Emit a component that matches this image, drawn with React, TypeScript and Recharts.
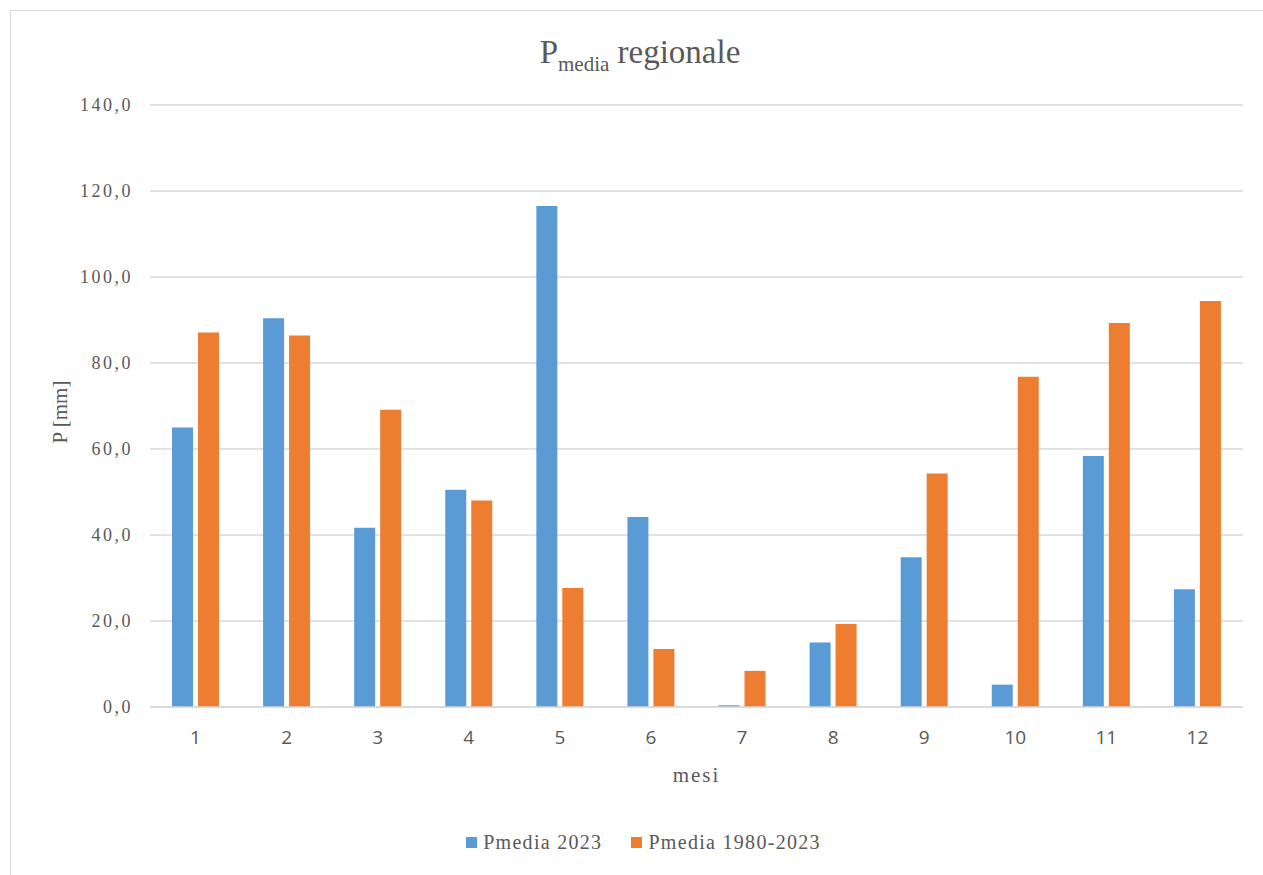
import { Bar, BarChart, CartesianGrid, Legend, XAxis, YAxis } from 'recharts';

const MONTHS = ['1', '2', '3', '4', '5', '6', '7', '8', '9', '10', '11', '12'];
const P_2023 = [65.0, 90.4, 41.7, 50.5, 116.5, 44.2, 0.4, 15.0, 34.8, 5.2, 58.4, 27.4];
const P_1980_2023 = [87.1, 86.4, 69.1, 48.0, 27.7, 13.5, 8.4, 19.3, 54.3, 76.8, 89.3, 94.4];
const Y_TICKS = [0, 20, 40, 60, 80, 100, 120, 140];

const SERIES_2023 = 'Pmedia 2023';
const SERIES_HIST = 'Pmedia 1980-2023';
const LEGEND_ORDER = [SERIES_2023, SERIES_HIST];

const data = MONTHS.map((m, i) => ({
  mese: m,
  p2023: P_2023[i],
  pHist: P_1980_2023[i],
}));

const SERIF = '"Liberation Serif", "DejaVu Serif", serif';
const SANS = '"Open Sans", "Noto Sans", sans-serif';
const TEXT = '#595959';
const GRID = '#d9d9d9';

const fmt = (v: number) => v.toFixed(1).replace('.', ',');

function LegendBox({ payload }: { payload?: { value: string; color: string }[] }) {
  const items = [...(payload ?? [])].sort(
    (a, b) => LEGEND_ORDER.indexOf(a.value) - LEGEND_ORDER.indexOf(b.value),
  );
  return (
    <div style={{ display: 'flex', justifyContent: 'center', alignItems: 'center', gap: 29 }}>
      {items.map((item) => (
        <div key={item.value} style={{ display: 'flex', alignItems: 'center' }}>
          <span style={{ width: 11, height: 11, background: item.color, marginRight: 6 }} />
          <span style={{ fontFamily: SERIF, fontSize: 20, letterSpacing: 1.3, color: TEXT }}>
            {item.value}
          </span>
        </div>
      ))}
    </div>
  );
}

export default function App() {
  // fixed so the page never gets a scrollbar
  return (
    <div style={{ position: 'fixed', left: 0, top: 0, width: 1263, height: 875, overflow: 'hidden', background: '#fff' }}>
      {/* chart area frame: only top and left edges are visible in the original */}
      <div style={{ position: 'absolute', left: 10, top: 10, width: 1300, height: 1, background: GRID }} />
      <div style={{ position: 'absolute', left: 10, top: 10, width: 1, height: 900, background: GRID }} />
      <div
        style={{
          position: 'absolute',
          left: 0,
          top: 36,
          width: 1280,
          textAlign: 'center',
          fontFamily: SERIF,
          fontSize: 33,
          lineHeight: '32px',
          color: TEXT,
        }}
      >
        P<span style={{ fontSize: 21, position: 'relative', top: 8 }}>media</span> regionale
      </div>
      <BarChart
        width={1263}
        height={875}
        data={data}
        margin={{ top: 105, right: 20, bottom: 88, left: 0 }}
        barSize={21}
        barGap={5}
        style={{ position: 'absolute', left: 0, top: 0 }}
      >
        <CartesianGrid vertical={false} stroke={GRID} strokeWidth={1.5} />
        <XAxis
          dataKey="mese"
          height={80}
          axisLine={{ stroke: GRID, strokeWidth: 1.5 }}
          tickLine={false}
          tickSize={0}
          tickMargin={24}
          tick={{ fontFamily: SANS, fontSize: 19, fill: TEXT }}
          label={{
            content: (props: any) => {
              const vb = props.viewBox;
              return (
                <text
                  x={vb.x + vb.width / 2}
                  y={vb.y + 75}
                  textAnchor="middle"
                  fontFamily={SERIF}
                  fontSize={21}
                  letterSpacing={2}
                  fill={TEXT}
                >
                  mesi
                </text>
              );
            },
          }}
        />
        <YAxis
          width={150}
          domain={[0, 140]}
          ticks={Y_TICKS}
          tickFormatter={fmt}
          axisLine={false}
          tickLine={false}
          tickSize={0}
          tickMargin={17}
          tick={{ fontFamily: SERIF, fontSize: 18, fill: TEXT, letterSpacing: 2.5 }}
          label={{
            content: (props: any) => {
              const vb = props.viewBox;
              const cx = 60;
              const cy = vb.y + vb.height / 2 + 6;
              return (
                <text
                  x={cx}
                  y={cy}
                  textAnchor="middle"
                  dominantBaseline="central"
                  transform={`rotate(-90 ${cx} ${cy})`}
                  fontFamily={SERIF}
                  fontSize={21}
                  fill={TEXT}
                >
                  P [mm]
                </text>
              );
            },
          }}
        />
        <Legend
          layout="vertical"
          verticalAlign="middle"
          align="center"
          wrapperStyle={{ top: 831, left: 12, width: 1263 }}
          content={(props: any) => <LegendBox payload={props.payload} />}
        />
        <Bar dataKey="p2023" name={SERIES_2023} fill="#5B9BD5" isAnimationActive={false} />
        <Bar dataKey="pHist" name={SERIES_HIST} fill="#ED7D31" isAnimationActive={false} />
      </BarChart>
    </div>
  );
}
